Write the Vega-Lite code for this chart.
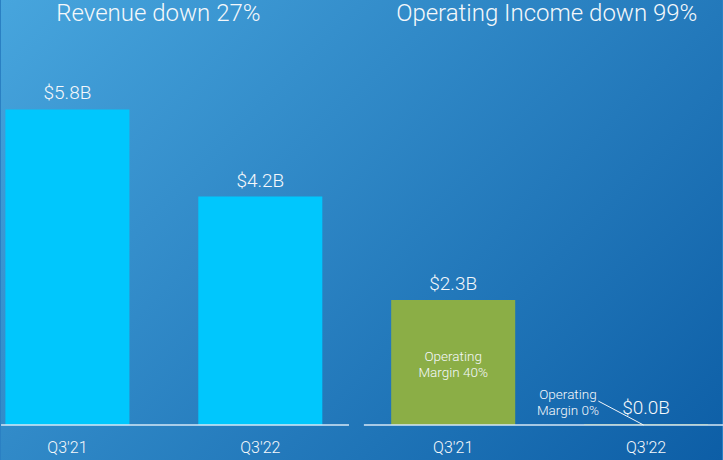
{
  "$schema": "https://vega.github.io/schema/vega-lite/v6.json",
  "width": 723,
  "height": 460,
  "padding": 0,
  "autosize": {"type": "fit", "contains": "padding"},
  "background": "#2a80c3",
  "config": {"view": {"stroke": null}, "axis": {"disable": true}, "text": {"font": "Roboto", "fontWeight": 300, "fill": "#f5f8fb"}},
  "datasets": {
    "bars": [
      {"id": "R21", "panel": "Revenue", "quarter": "Q3'21", "value": 5.8, "label": "$5.8B"},
      {"id": "R22", "panel": "Revenue", "quarter": "Q3'22", "value": 4.2, "label": "$4.2B"},
      {"id": "O21", "panel": "Operating Income", "quarter": "Q3'21", "value": 2.3, "label": "$2.3B", "margin": "Operating\nMargin 40%"},
      {"id": "O22", "panel": "Operating Income", "quarter": "Q3'22", "value": 0.014, "label": "$0.0B", "margin": "Operating\nMargin 0%"}
    ],
    "titles": [
      {"panel": "Revenue", "title": "Revenue down 27%"},
      {"panel": "Operating Income", "title": "Operating Income down 99%"}
    ]
  },
  "layer": [
    {
      "data": {"name": "titles"},
      "transform": [{"filter": "datum.panel === 'Revenue'"}],
      "mark": {"type": "rect", "fill": {"gradient": "linear", "x1": 0, "y1": 0, "x2": 1.167, "y2": 0.735, "stops": [{"offset": 0, "color": "#47a5dd"}, {"offset": 1, "color": "#0d5ea6"}]}},
      "encoding": {}
    },
    {
      "data": {"name": "bars"},
      "mark": {"type": "bar"},
      "encoding": {
        "x": {"field": "id", "type": "nominal", "scale": {"domain": ["R21", "R22", "O21", "O22"], "range": [4.4, 707.1], "paddingInner": 0.357, "paddingOuter": 0}},
        "y": {"field": "value", "type": "quantitative", "scale": {"domain": [-0.643, 7.8125], "nice": false, "zero": false}},
        "y2": {"datum": 0},
        "color": {"field": "panel", "type": "nominal", "scale": {"domain": ["Revenue", "Operating Income"], "range": ["#00c7fd", "#8bae46"]}, "legend": null}
      }
    },
    {
      "data": {"name": "titles"},
      "transform": [{"filter": "datum.panel === 'Revenue'"}],
      "mark": {"type": "rule", "stroke": "#d6e7f6", "strokeWidth": 1.5},
      "encoding": {
        "x": {"datum": "R21", "type": "nominal", "bandPosition": -0.035},
        "x2": {"datum": "R22", "bandPosition": 1.215},
        "y": {"datum": 0, "type": "quantitative"}
      }
    },
    {
      "data": {"name": "titles"},
      "transform": [{"filter": "datum.panel === 'Operating Income'"}],
      "mark": {"type": "rule", "stroke": "#d6e7f6", "strokeWidth": 1.5},
      "encoding": {
        "x": {"datum": "O21", "type": "nominal", "bandPosition": -0.22},
        "x2": {"datum": "O22", "bandPosition": 1.128},
        "y": {"datum": 0, "type": "quantitative"}
      }
    },
    {
      "data": {"name": "bars"},
      "mark": {"type": "text", "fontSize": 19, "baseline": "alphabetic", "dy": -10},
      "encoding": {
        "x": {"field": "id", "type": "nominal"},
        "y": {"field": "value", "type": "quantitative"},
        "text": {"field": "label"}
      }
    },
    {
      "data": {"name": "bars"},
      "mark": {"type": "text", "fontSize": 16, "baseline": "alphabetic"},
      "encoding": {
        "x": {"field": "id", "type": "nominal"},
        "y": {"datum": -0.515, "type": "quantitative"},
        "text": {"field": "quarter"}
      }
    },
    {
      "data": {"name": "bars"},
      "transform": [{"filter": "datum.id === 'O21'"}],
      "mark": {"type": "text", "fontSize": 13.5, "baseline": "alphabetic", "lineBreak": "\n", "lineHeight": 16},
      "encoding": {
        "x": {"field": "id", "type": "nominal"},
        "y": {"datum": 1.176, "type": "quantitative"},
        "text": {"field": "margin"}
      }
    },
    {
      "data": {"name": "bars"},
      "transform": [{"filter": "datum.id === 'O22'"}],
      "mark": {"type": "text", "fontSize": 13.5, "baseline": "alphabetic", "lineBreak": "\n", "lineHeight": 16},
      "encoding": {
        "x": {"field": "id", "type": "nominal", "bandPosition": -0.13},
        "y": {"datum": 0.478, "type": "quantitative"},
        "text": {"field": "margin"}
      }
    },
    {
      "data": {"name": "bars"},
      "transform": [{"filter": "datum.id === 'O22'"}],
      "mark": {"type": "rule", "stroke": "#f3f6fa", "strokeWidth": 1},
      "encoding": {
        "x": {"field": "id", "type": "nominal", "bandPosition": 0.115},
        "x2": {"field": "id", "bandPosition": 0.48},
        "y": {"datum": 0.44, "type": "quantitative"},
        "y2": {"datum": 0}
      }
    },
    {
      "data": {"name": "titles"},
      "transform": [{"filter": "datum.panel === 'Revenue'"}],
      "mark": {"type": "text", "fontSize": 24, "align": "left", "baseline": "alphabetic"},
      "encoding": {
        "x": {"datum": "R21", "type": "nominal", "bandPosition": 0.41},
        "y": {"datum": 7.43, "type": "quantitative"},
        "text": {"field": "title"}
      }
    },
    {
      "data": {"name": "titles"},
      "transform": [{"filter": "datum.panel === 'Operating Income'"}],
      "mark": {"type": "text", "fontSize": 24, "align": "left", "baseline": "alphabetic"},
      "encoding": {
        "x": {"datum": "O21", "type": "nominal", "bandPosition": 0.04},
        "y": {"datum": 7.43, "type": "quantitative"},
        "text": {"field": "title"}
      }
    }
  ]
}
